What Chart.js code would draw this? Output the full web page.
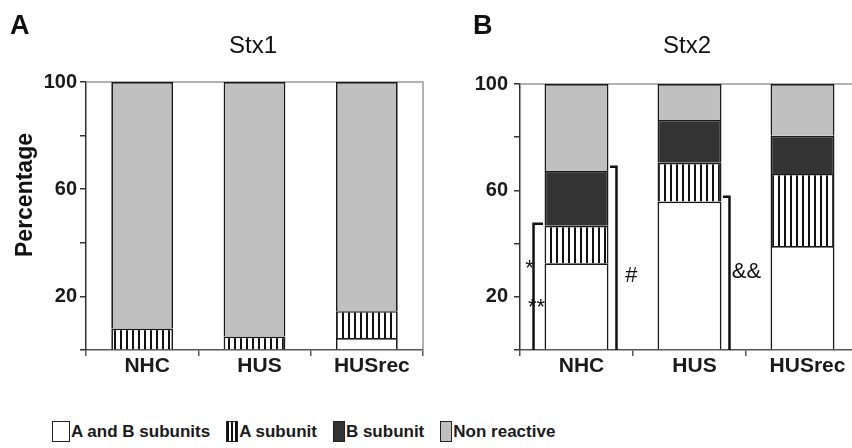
<!DOCTYPE html>
<html>
<head>
<meta charset="utf-8">
<title>Stx1 / Stx2 reactivity</title>
<script src="https://cdn.jsdelivr.net/npm/chart.js@4.4.1/dist/chart.umd.min.js"></script>
<style>
  body { margin: 0; background: #fff; overflow: hidden; }
  #page { position: relative; width: 852px; height: 448px; overflow: hidden; font-family: "Liberation Sans", Arial, sans-serif; }
  #chartA { position: absolute; left: 0; top: 0; }
  #chartB { position: absolute; left: 430px; top: 0; }
  #legend { position: absolute; left: 52px; top: 421px; display: flex; align-items: center; font-weight: bold; font-size: 17px; color: #1a1a1a; }
  .item { display: flex; align-items: center; margin-right: 16px; }
  .swatch { box-sizing: border-box; border: 1.5px solid #222; height: 21px; margin-right: 1px; }
</style>
</head>
<body>
<div id="page">
  <canvas id="chartA" width="440" height="395"></canvas>
  <canvas id="chartB" width="440" height="395"></canvas>
  <div id="legend"></div>
</div>
<script>
// Categories and series
const categories = ['NHC', 'HUS', 'HUSrec'];
const seriesLabels = ['A and B subunits', 'A subunit', 'B subunit', 'Non reactive'];

// Stx1 (panel A), percentage per group
const stx1AB = [0, 0, 4.5];
const stx1A = [8, 5, 10];
const stx1B = [0, 0, 0];
const stx1NR = [92, 95, 85.5];

// Stx2 (panel B), percentage per group
const stx2AB = [32.6, 55.8, 39.1];
const stx2A = [14.1, 14.6, 27.1];
const stx2B = [20.6, 16.1, 14.3];
const stx2NR = [32.7, 13.5, 19.5];

// Only these y ticks get a label
const yTicksShown = [20, 60, 100];

// Significance brackets in panel B (group index, side, top value)
const bracketCats = [0, 0, 1];
const bracketSides = [-1, 1, 1];
const bracketTops = [47.5, 68.9, 57.6];
const markTexts = ['*', '**', '#', '&&'];
const markBrackets = [0, 0, 1, 2];
const markValues = [30.5, 16, 27.8, 29.3];

const FONT = '"Liberation Sans", Arial, sans-serif';

// vertical stripes pattern for the "A subunit" segments
function makeHatch() {
  const c = document.createElement('canvas');
  c.width = 6;
  c.height = 6;
  const g = c.getContext('2d');
  g.fillStyle = '#ffffff';
  g.fillRect(0, 0, 6, 6);
  g.fillStyle = '#111111';
  g.fillRect(0, 0, 2, 6);
  return g.createPattern(c, 'repeat');
}
const hatch = makeHatch();
const fills = ['#ffffff', hatch, '#333333', '#c0c0c0'];

// gray frame line along top and right of the plot area
const framePlugin = {
  id: 'frame',
  beforeDatasetsDraw(chart) {
    const { ctx, chartArea } = chart;
    ctx.save();
    ctx.strokeStyle = '#999';
    ctx.lineWidth = 1.5;
    ctx.beginPath();
    ctx.moveTo(chartArea.left, chartArea.top);
    ctx.lineTo(chartArea.right, chartArea.top);
    ctx.lineTo(chartArea.right, chartArea.bottom);
    ctx.stroke();
    ctx.restore();
  }
};

// panel letter, title and y axis title
const panelText = {
  id: 'panelText',
  afterDraw(chart, args, opts) {
    const ctx = chart.ctx;
    ctx.save();
    ctx.fillStyle = '#111';
    ctx.textBaseline = 'alphabetic';
    ctx.textAlign = 'left';
    ctx.font = 'bold 27px ' + FONT;
    ctx.fillText(opts.letter, opts.letterX, 34);
    ctx.textAlign = 'center';
    ctx.font = '24px ' + FONT;
    ctx.fillText(opts.title, opts.titleX, 53);
    if (opts.yTitle) {
      ctx.translate(26, 195);
      ctx.rotate(-Math.PI / 2);
      ctx.font = 'bold 23px ' + FONT;
      ctx.textBaseline = 'middle';
      ctx.fillText(opts.yTitle, 0, 0);
    }
    ctx.restore();
  }
};

// significance brackets and marks (panel B)
const bracketPlugin = {
  id: 'brackets',
  afterDatasetsDraw(chart) {
    const ctx = chart.ctx;
    const y = chart.scales.y;
    const bars = chart.getDatasetMeta(0).data;
    const gaps = [11, 8, 8];
    const markDx = [-4, 3, 15, 17];
    const xs = [];
    ctx.save();
    ctx.strokeStyle = '#111';
    ctx.lineWidth = 2.5;
    bracketCats.forEach((c, i) => {
      const bar = bars[c];
      const side = bracketSides[i];
      const edge = bar.x + side * bar.width / 2;
      const bx = edge + side * gaps[i];
      const top = y.getPixelForValue(bracketTops[i]);
      xs.push(bx);
      ctx.beginPath();
      ctx.moveTo(bx, y.getPixelForValue(0));
      ctx.lineTo(bx, top);
      ctx.lineTo(edge + side * 1.5, top);
      ctx.stroke();
    });
    ctx.fillStyle = '#111';
    ctx.font = '22px ' + FONT;
    ctx.textAlign = 'center';
    ctx.textBaseline = 'middle';
    markTexts.forEach((t, i) => {
      ctx.fillText(t, xs[markBrackets[i]] + markDx[i], y.getPixelForValue(markValues[i]));
    });
    ctx.restore();
  }
};

function makeChart(id, ab, a, b, nr, cfg) {
  const series = [ab, a, b, nr];
  return new Chart(document.getElementById(id), {
    type: 'bar',
    data: {
      labels: categories,
      datasets: series.map((d, i) => ({
        label: seriesLabels[i],
        data: d,
        backgroundColor: fills[i],
        borderColor: '#1a1a1a',
        borderWidth: 1.7,
        barPercentage: 1,
        categoryPercentage: cfg.barPct
      }))
    },
    options: {
      responsive: false,
      animation: false,
      layout: { padding: { top: cfg.top, right: cfg.right, bottom: 0, left: 0 } },
      plugins: {
        legend: { display: false },
        tooltip: { enabled: false },
        panelText: cfg.text
      },
      scales: {
        x: {
          stacked: true,
          grid: { drawOnChartArea: false, tickLength: 6, color: '#555', lineWidth: 1.5 },
          border: { color: '#555', width: 1.5 },
          ticks: { font: { family: FONT, size: 21, weight: 'bold' }, color: '#1a1a1a', padding: -2, labelOffset: 5 },
          afterFit: (s) => { s.height = 45; }
        },
        y: {
          stacked: true,
          min: 0,
          max: 100,
          grid: { drawOnChartArea: false, tickLength: 6, color: '#333', lineWidth: 1.5 },
          border: { color: '#333', width: 1.5 },
          ticks: {
            stepSize: 20,
            callback: (v) => (yTicksShown.includes(v) ? v : ''),
            font: { family: FONT, size: 20, weight: 'bold' },
            color: '#1a1a1a',
            padding: cfg.tickPad
          },
          afterFit: (s) => { s.width = cfg.yWidth; }
        }
      }
    },
    plugins: cfg.plugins
  });
}

makeChart('chartA', stx1AB, stx1A, stx1B, stx1NR, {
  barPct: 0.55, top: 82, right: 17, yWidth: 86, tickPad: 3,
  text: { letter: 'A', letterX: 10, title: 'Stx1', titleX: 253, yTitle: 'Percentage' },
  plugins: [framePlugin, panelText]
});

makeChart('chartB', stx2AB, stx2A, stx2B, stx2NR, {
  barPct: 0.566, top: 84, right: 11, yWidth: 90, tickPad: 6,
  text: { letter: 'B', letterX: 43, title: 'Stx2', titleX: 257 },
  plugins: [framePlugin, panelText, bracketPlugin]
});

// legend below both panels
const swatchStyles = [
  'width:18px;background:#fff;',
  'width:12px;background:repeating-linear-gradient(90deg,#111 0 2px,#fff 2px 4px);',
  'width:12px;background:#333;',
  'width:12px;background:#c0c0c0;'
];
const legend = document.getElementById('legend');
seriesLabels.forEach((label, i) => {
  const item = document.createElement('div');
  item.className = 'item';
  item.innerHTML = '<span class="swatch" style="' + swatchStyles[i] + '"></span><span>' + label + '</span>';
  legend.appendChild(item);
});
</script>
</body>
</html>
